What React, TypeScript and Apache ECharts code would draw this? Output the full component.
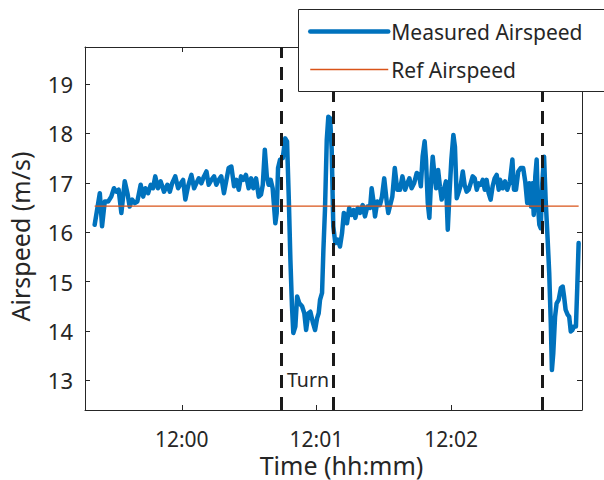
import React, { useEffect, useRef } from "react";
import * as echarts from "echarts";

// Time in seconds after 11:59:00
const TIME_S = [
  21.2, 23.5, 24.5, 25.7, 27.2, 28.6, 29.8, 30.9, 31.9, 33.1, 34.6, 35.8, 36.8, 37.9, 39.1, 40.2,
  41.7, 42.8, 43.8, 45.0, 46.2, 47.2, 48.2, 49.4, 50.6, 52.1, 53.6, 54.7, 55.7, 57.1, 58.4, 59.6,
  60.6, 61.6, 62.8, 64.3, 65.5, 66.5, 67.6, 68.7, 69.9, 71.0, 72.0, 73.2, 74.4, 75.4, 76.5, 77.6,
  78.8, 79.9, 80.9, 82.1, 83.3, 84.3, 85.4, 86.4, 87.4, 88.6, 89.8, 90.9, 91.9, 93.1, 94.3, 95.3,
  96.1, 97.0, 97.9, 98.7, 99.6, 100.5, 101.7, 102.3, 102.9, 103.8, 105.0, 106.1, 106.9, 107.7,
  108.4, 109.1, 109.7, 110.6, 111.4, 112.4, 113.6, 114.6, 115.4, 116.4, 117.3, 118.3, 119.4,
  120.3, 121.0, 121.6, 122.5, 123.1, 123.8, 124.6, 125.3, 126.1, 126.8, 127.5, 128.4, 129.5,
  130.5, 131.4, 132.2, 132.9, 133.6, 134.6, 135.7, 136.6, 137.3, 138.4, 139.4, 140.6, 141.6,
  142.7, 143.9, 144.6, 145.3, 146.1, 147.1, 148.3, 149.2, 150.2, 151.3, 152.0, 153.1, 153.8,
  154.9, 156.0, 157.2, 158.3, 159.5, 160.5, 161.4, 162.4, 163.5, 164.7, 165.7, 166.5, 167.3,
  168.2, 168.8, 169.6, 170.3, 171.0, 171.8, 172.5, 173.3, 174.2, 175.0, 175.8, 176.8, 177.7,
  178.5, 179.2, 180.1, 181.0, 181.7, 182.5, 183.4, 184.3, 185.2, 186.0, 186.9, 187.8, 188.7,
  189.6, 190.5, 191.4, 192.3, 193.2, 194.1, 195.0, 195.8, 196.7, 197.6, 198.5, 199.4, 200.3,
  201.2, 201.8, 203.0, 204.0, 205.0, 206.2, 207.3, 208.0, 208.9, 209.9, 211.0, 212.1, 213.0,
  213.9, 214.8, 215.6, 216.2, 216.8, 217.5, 218.1, 218.7, 219.3, 219.9, 220.6, 221.4, 222.1,
  223.0, 223.7, 224.4, 224.9, 225.5, 226.3, 227.0, 227.9, 228.9, 229.7, 230.3, 231.0, 231.9,
  232.6, 233.3, 234.0, 234.7, 235.6, 236.2, 236.8,
];

const AIRSPEED = [
  16.15, 16.79, 16.12, 16.62, 16.62, 16.72, 16.89, 16.82, 16.86, 16.39, 17.03, 16.79, 16.52, 16.66, 16.59, 16.62,
  16.96, 16.72, 16.89, 16.79, 16.96, 16.89, 17.13, 16.89, 17.03, 16.82, 16.96, 16.82, 16.99, 17.13, 16.89, 16.99,
  17.06, 16.66, 16.93, 17.16, 16.89, 16.99, 17.09, 16.99, 17.13, 17.23, 16.96, 17.06, 17.13, 16.96, 17.06, 17.13,
  16.79, 17.06, 17.30, 17.33, 16.93, 17.06, 16.86, 17.13, 17.06, 17.16, 16.89, 17.09, 16.89, 17.09, 16.72, 16.76,
  16.96, 17.67, 17.13, 16.96, 17.06, 16.89, 16.18, 16.39, 17.30, 17.47, 17.50, 17.90, 17.84, 16.66,
  15.44, 14.50, 13.96, 14.09, 14.70, 14.56, 14.50, 14.36, 14.02, 14.36, 14.39, 14.19, 14.02,
  14.26, 14.36, 14.63, 14.77, 15.64, 16.45, 17.87, 18.34, 18.31, 17.67, 16.12, 15.78, 15.85,
  15.71, 15.98, 16.39, 16.35, 16.18, 16.49, 16.35, 16.45, 16.29, 16.49, 16.39, 16.55, 16.32,
  16.52, 16.49, 16.89, 16.66, 16.32, 16.62, 16.55, 16.72, 17.09, 16.62, 16.39, 16.59, 16.72,
  17.30, 16.86, 16.86, 17.13, 16.86, 16.99, 17.09, 16.89, 16.99, 17.20, 17.16, 16.93, 17.53,
  17.84, 17.47, 16.59, 16.29, 16.99, 17.53, 17.20, 16.89, 17.26, 16.93, 16.66, 16.86, 17.03,
  16.05, 16.72, 17.47, 17.97, 17.73, 16.69, 16.82, 16.96, 17.23, 16.96, 16.82, 16.86, 16.99,
  17.13, 17.09, 16.86, 16.99, 16.96, 17.06, 16.86, 17.06, 16.79, 16.66, 16.93, 17.09, 17.16,
  16.86, 17.06, 16.89, 17.03, 16.86, 17.03, 17.47, 16.86, 16.86, 17.23, 17.30, 17.30, 17.03,
  16.59, 16.99, 16.52, 16.99, 16.35, 17.13, 17.47, 16.52, 16.15, 16.08, 16.99, 17.53, 16.66,
  15.85, 15.17, 14.16, 13.21, 13.55, 14.29, 14.56, 14.63, 14.87, 14.90, 14.70, 14.43, 14.33,
  14.29, 13.99, 14.02, 14.09, 14.09, 14.90, 15.78,
];

const REF_AIRSPEED = 16.53;
const REF_START = 21.2;
const REF_END = 236.8;
const TURN_TIMES = [104.2, 127.5, 220.8];
const X_TICKS = [60, 120, 180];
const X_TICK_LABELS = ["12:00", "12:01", "12:02"];
const Y_TICKS = [13, 14, 15, 16, 17, 18, 19];
const X_MIN = 16.9;
const X_MAX = 238.3;
const Y_MIN = 12.4;
const Y_MAX = 19.75;

const FONT = "Noto Sans";
const INK = "#262626";

export default function App() {
  const ref = useRef<HTMLDivElement>(null);
  useEffect(() => {
    if (!ref.current) return;
    const chart = echarts.init(ref.current, null, { renderer: "svg" });
    const measured = TIME_S.map((t, i) => [t, AIRSPEED[i]]);
    const refLine = [
      [REF_START, REF_AIRSPEED],
      [REF_END, REF_AIRSPEED],
    ];
    const axisLine = { show: true, lineStyle: { color: INK, width: 1 } };
    const xTick = { show: true, inside: true, length: 5, customValues: X_TICKS, lineStyle: { color: INK } };
    const yTick = { show: true, inside: true, length: 5, customValues: Y_TICKS, lineStyle: { color: INK } };
    chart.setOption({
      animation: false,
      textStyle: { fontFamily: FONT },
      grid: { left: 85, right: 22, top: 47, bottom: 70, containLabel: false },
      xAxis: [
        {
          type: "value",
          position: "bottom",
          min: X_MIN,
          max: X_MAX,
          axisLine,
          axisTick: xTick,
          splitLine: { show: false },
          axisLabel: {
            customValues: X_TICKS,
            formatter: (v: number) => X_TICK_LABELS[X_TICKS.indexOf(Math.round(v))] ?? "",
            fontSize: 21,
            lineHeight: 18,
            color: INK,
            fontFamily: FONT,
            margin: 19.5,
          },
        },
        {
          type: "value",
          position: "top",
          min: X_MIN,
          max: X_MAX,
          axisLine,
          axisTick: xTick,
          splitLine: { show: false },
          axisLabel: { show: false },
        },
      ],
      yAxis: [
        {
          type: "value",
          position: "left",
          min: Y_MIN,
          max: Y_MAX,
          axisLine,
          axisTick: yTick,
          splitLine: { show: false },
          axisLabel: {
            customValues: Y_TICKS,
            fontSize: 22,
            color: INK,
            fontFamily: FONT,
            margin: 12,
          },
        },
        {
          type: "value",
          position: "right",
          min: Y_MIN,
          max: Y_MAX,
          axisLine,
          axisTick: yTick,
          splitLine: { show: false },
          axisLabel: { show: false },
        },
      ],
      legend: {
        data: [
          { name: "Measured Airspeed", lineStyle: { width: 4.5 } },
          { name: "Ref Airspeed", lineStyle: { width: 1.3 } },
        ],
        orient: "vertical",
        left: 308,
        top: 21,
        padding: 0,
        itemWidth: 78,
        itemHeight: 20,
        itemGap: 17,
        z: 30,
        itemStyle: { opacity: 0 },
        textStyle: { fontSize: 21, color: INK, fontFamily: FONT, padding: [0, 0, 0, -2] },
      },
      graphic: [
        {
          type: "rect",
          z: 20,
          shape: { x: 298.5, y: 9.5, width: 330, height: 82 },
          style: { fill: "#ffffff", stroke: INK, lineWidth: 1 },
        },
        {
          type: "text",
          z: 5,
          x: 287,
          y: 369,
          style: { text: "Turn", fontSize: 19.5, fontFamily: FONT, fill: INK },
        },
        {
          type: "text",
          z: 5,
          x: 341.5,
          y: 464.5,
          style: {
            text: "Time (hh:mm)",
            fontSize: 25,
            lineHeight: 22,
            fontFamily: FONT,
            fill: INK,
            textAlign: "center",
            textVerticalAlign: "middle",
            align: "center",
            verticalAlign: "middle",
          },
        },
        {
          type: "text",
          z: 5,
          x: 20,
          y: 236.5,
          rotation: Math.PI / 2,
          style: {
            text: "Airspeed (m/s)",
            fontSize: 25,
            lineHeight: 25,
            fontFamily: FONT,
            fill: INK,
            textAlign: "center",
            textVerticalAlign: "middle",
            align: "center",
            verticalAlign: "middle",
          },
        },
      ],
      series: [
        {
          name: "Measured Airspeed",
          type: "line",
          data: measured,
          symbol: "none",
          smooth: false,
          lineStyle: { color: "#0072BD", width: 4.5, join: "round", cap: "round" },
          itemStyle: { color: "#0072BD" },
          z: 2,
        },
        {
          name: "Ref Airspeed",
          type: "line",
          data: refLine,
          symbol: "none",
          lineStyle: { color: "#D95319", width: 1.3 },
          itemStyle: { color: "#D95319" },
          z: 3,
          markLine: {
            silent: true,
            symbol: "none",
            label: { show: false },
            lineStyle: { color: "#1a1a1a", type: [13, 9], width: 3 },
            data: TURN_TIMES.map((t) => ({ xAxis: t })),
          },
        },
      ],
    });
    return () => chart.dispose();
  }, []);
  return <div ref={ref} style={{ width: 604, height: 480, position: "absolute", left: 0, top: 0 }} />;
}
